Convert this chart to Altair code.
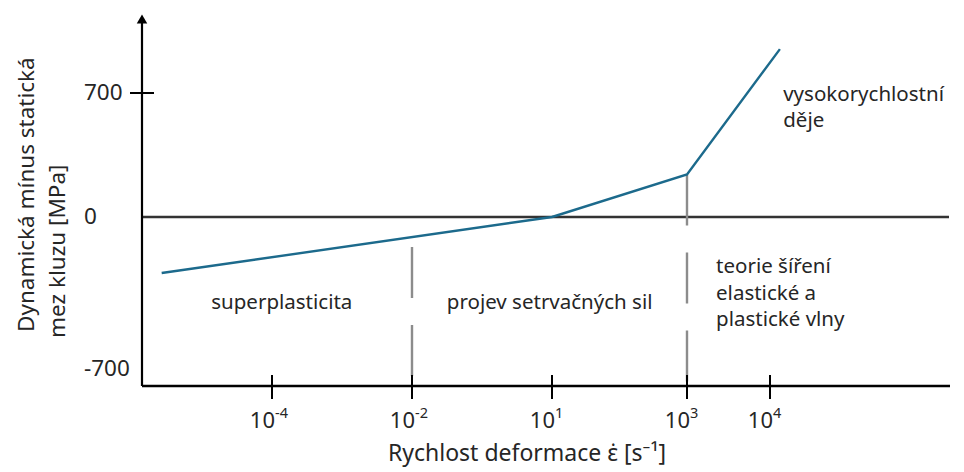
import altair as alt
import pandas as pd

# ---- data (schematic) ----
rate_exp = [-5.57, 1.0, 3.0, 4.12]          # log10 of strain rate
stress_diff = [-258, 0, 240, 948]           # dynamic minus static yield [MPa]

tick_exp = [-4, -2, 1, 3, 4]
tick_sup = ["-4", "-2", "1", "3", "4"]
y_tick_values = [700, 0, -700]
y_tick_text = ["700", "0", "-700"]

divider_exp = [-2, 3]
divider_top = [-138, 240]

region_text = ["superplasticita", "projev setrvačných sil",
               "teorie šíření", "elastické a", "plastické vlny",
               "vysokorychlostní", "děje"]
region_exp = [-3.86, 0.95, 3.35, 3.35, 3.35, 4.16, 4.16]
region_val = [-396, -396, -230, -355, -474, 689, 542]
region_align = ["center", "center", "left", "left", "left", "left", "left"]

# ---- layout / style ----
W, H = 808, 373
FONT = "Noto Sans"
TXT = "#262626"

xsc = alt.Scale(domain=[-5.85, -4, -2, 1, 3, 4, 6.18],
                range=[0, 130, 270, 410, 545, 628, 808], nice=False, zero=False)
ysc = alt.Scale(domain=[-778, 0, 700, 1152], range=[373, 204, 80, 0],
                nice=False, zero=False)

line_df = pd.DataFrame({"e": rate_exp, "v": stress_diff})
tick_df = pd.DataFrame({"e": tick_exp, "sup": tick_sup})
ytick_df = pd.DataFrame({"v": y_tick_values, "t": y_tick_text})
div_df = pd.DataFrame({"e": divider_exp, "top": divider_top})
reg_df = pd.DataFrame({"t": region_text, "e": region_exp, "v": region_val,
                       "a": region_align})
zero_df = pd.DataFrame({"v": [0]})
y700_df = pd.DataFrame({"v": [700]})
one = pd.DataFrame({"k": [0]})

X = lambda f: alt.X(f, type="quantitative", scale=xsc, axis=None)
Y = lambda f: alt.Y(f, type="quantitative", scale=ysc, axis=None)

# axes lines
yaxis = alt.Chart(one).mark_rule(color="black", strokeWidth=2.2).encode(
    x=alt.value(0), y=alt.value(8), y2=alt.value(H))
arrow = alt.Chart(one).mark_point(shape="triangle-up", filled=True, color="black",
                                  size=110, opacity=1).encode(
    x=alt.value(0), y=alt.value(6))
xaxis = alt.Chart(one).mark_rule(color="black", strokeWidth=2.4).encode(
    x=alt.value(0), x2=alt.value(W), y=alt.value(H))
zero = alt.Chart(zero_df).mark_rule(color="#333333", strokeWidth=2.4).encode(
    x=alt.value(0), x2=alt.value(W - 1), y=Y("v"))
xticks = alt.Chart(tick_df).mark_rule(color="black", strokeWidth=2).encode(
    x=X("e"), y=alt.value(H - 11), y2=alt.value(H + 13))
ytick = alt.Chart(y700_df).mark_rule(color="black", strokeWidth=2).encode(
    y=Y("v"), x=alt.value(-12), x2=alt.value(12))

# tick labels
ylabels = alt.Chart(ytick_df).mark_text(align="left", baseline="middle",
                                        font=FONT, fontSize=22.5, color=TXT).encode(
    y=Y("v"), x=alt.value(-58), text="t:N")
xbase = alt.Chart(tick_df).mark_text(align="right", baseline="alphabetic",
                                     font=FONT, fontSize=22, color=TXT, dx=3).encode(
    x=X("e"), y=alt.value(H + 42), text=alt.value("10"))
xsup = alt.Chart(tick_df).mark_text(align="left", baseline="alphabetic",
                                    font=FONT, fontSize=14.5, color=TXT, dx=3).encode(
    x=X("e"), y=alt.value(H + 32), text="sup:N")

# dividers
dividers = alt.Chart(div_df).mark_rule(color="#8c8c8c", strokeWidth=2.4,
                                       strokeDash=[51, 27]).encode(
    x=X("e"), y=Y("top"), y2=alt.value(H))

# data line
curve = alt.Chart(line_df).mark_line(color="#1c6a8c", strokeWidth=2.4).encode(
    x=X("e"), y=Y("v"), order=alt.Order("e:Q"))

# region annotations
reg_c = alt.Chart(reg_df).transform_filter("datum.a == 'center'").mark_text(
    align="center", baseline="middle", font=FONT, fontSize=20.5, color=TXT).encode(
    x=X("e"), y=Y("v"), text="t:N")
reg_l = alt.Chart(reg_df).transform_filter("datum.a == 'left'").mark_text(
    align="left", baseline="middle", font=FONT, fontSize=20.5, color=TXT).encode(
    x=X("e"), y=Y("v"), text="t:N")

# titles
xtitle = alt.Chart(one).mark_text(align="center", baseline="middle", font=FONT,
                                  fontSize=23, color=TXT).encode(
    x=alt.value(385), y=alt.value(441),
    text=alt.value("Rychlost deformace ε̇ [s⁻¹]"))
ytitle1 = alt.Chart(one).mark_text(align="left", baseline="middle", angle=270,
                                   font=FONT, fontSize=22.5, color=TXT).encode(
    x=alt.value(-115), y=alt.value(319), text=alt.value("Dynamická mínus statická"))
ytitle2 = alt.Chart(one).mark_text(align="left", baseline="middle", angle=270,
                                   font=FONT, fontSize=22.5, color=TXT).encode(
    x=alt.value(-84), y=alt.value(325), text=alt.value("mez kluzu [MPa]"))

chart = alt.layer(
    zero, dividers, xaxis, yaxis, arrow, xticks, ytick, curve,
    ylabels, xbase, xsup, reg_c, reg_l, xtitle, ytitle1, ytitle2
).properties(
    width=W, height=H,
    padding={"left": 134, "top": 5, "right": 6, "bottom": 85},
    autosize=alt.AutoSizeParams(type="none"),
    background="white",
).configure_view(strokeWidth=0)

chart.save("out.html", embed_options={"renderer": "svg", "actions": False})
